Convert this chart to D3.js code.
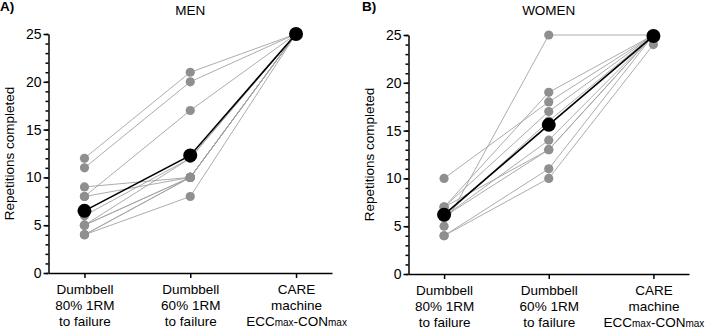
<!DOCTYPE html>
<html>
<head>
<meta charset="utf-8">
<script src="https://cdn.jsdelivr.net/npm/d3@7"></script>
<style>
  body { margin: 0; background: #fff; }
  svg text { font-family: "Liberation Sans", Arial, sans-serif; }
</style>
</head>
<body>
<div id="chart"></div>
<script>
const categories = ["cat80", "cat60", "care"];
const catLabels = [
  ["Dumbbell", "80% 1RM", "to failure"],
  ["Dumbbell", "60% 1RM", "to failure"],
  ["CARE", "machine", "ECC"]
];
const yTicks = [0, 5, 10, 15, 20, 25];

// one row per subject: [80% 1RM, 60% 1RM, CARE]
const menSubjects = [
  [12, 21, 25], [11, 20, 25], [8, 17, 25], [9, 10, 25],
  [8, 10, 25], [6, 12, 25], [5, 12, 25], [5, 10, 25],
  [5, 10, 25], [4, 10, 25], [4, 8, 25], [4, 10, 25]
];
const menMean = [6.5, 12.3, 25];

const womenSubjects = [
  [10, 18, 25], [5, 25, 25], [7, 19, 25], [7, 17, 25],
  [6, 14, 25], [6, 13, 25], [4, 11, 25], [4, 10, 24],
  [6, 16, 25], [7, 13, 25]
];
const womenMean = [6.2, 15.6, 24.9];

const W = 708, H = 329;
const svg = d3.select("#chart").append("svg")
  .attr("width", W).attr("height", H);

function drawPanel(opt) {
  const g = svg.append("g");

  const x = d3.scalePoint().domain(categories)
    .range([opt.x0, opt.x1]).padding(0.34);
  const y = d3.scaleLinear().domain([0, 25]).range([opt.y0, opt.y1]);

  const line = d3.line()
    .x((d, i) => x(categories[i]))
    .y(d => y(d));

  // individual subjects
  g.append("g").selectAll("path")
    .data(opt.subjects)
    .join("path")
    .attr("d", line)
    .attr("fill", "none")
    .attr("stroke", "#a3a3a3")
    .attr("stroke-width", 0.9);

  g.append("g").selectAll("circle")
    .data(opt.subjects.flatMap(s => s.map((v, i) => ({v, i}))))
    .join("circle")
    .attr("cx", d => x(categories[d.i]))
    .attr("cy", d => y(d.v))
    .attr("r", 4.6)
    .attr("fill", "#8f8f8f");

  // mean
  g.append("path")
    .attr("d", line(opt.mean))
    .attr("fill", "none")
    .attr("stroke", "#000")
    .attr("stroke-width", 1.6);

  g.append("g").selectAll("circle")
    .data(opt.mean)
    .join("circle")
    .attr("cx", (d, i) => x(categories[i]))
    .attr("cy", d => y(d))
    .attr("r", 7)
    .attr("fill", "#000");

  // y axis
  const yAxis = g.append("g")
    .attr("transform", "translate(" + opt.x0 + ",0)")
    .call(d3.axisLeft(y).tickValues(yTicks).tickSize(5).tickSizeOuter(0).tickPadding(2));
  g.append("g")
    .attr("transform", "translate(" + opt.x0 + ",0)")
    .call(d3.axisLeft(y).tickValues(d3.range(0, 26)).tickSize(3).tickFormat(""))
    .call(a => a.select(".domain").remove());

  // x axis
  const xAxis = g.append("g")
    .attr("transform", "translate(0," + opt.y0 + ")")
    .call(d3.axisBottom(x).tickSize(5).tickSizeOuter(0).tickFormat(""));

  g.selectAll(".domain, .tick line")
    .attr("stroke", "#000").attr("stroke-width", 1.5);
  yAxis.selectAll("text")
    .attr("font-size", 14).attr("fill", "#000");

  xAxis.selectAll(".tick").each(function(d, i) {
    const t = d3.select(this).append("text")
      .attr("fill", "#000")
      .attr("font-size", 13.5)
      .attr("text-anchor", "middle");
    catLabels[i].forEach((s, k) => {
      const ts = t.append("tspan").attr("x", 0).attr("y", 21 + k * 15.8).text(s);
      if (s === "ECC") {
        ts.append("tspan").attr("font-size", 10).text("max");
        ts.append("tspan").text("-CON");
        ts.append("tspan").attr("font-size", 10).text("max");
      }
    });
  });

  // y title
  g.append("text")
    .attr("transform", "translate(" + opt.ytx + "," + ((opt.y0 + opt.y1) / 2) + ") rotate(-90)")
    .attr("text-anchor", "middle")
    .attr("font-size", 13.5)
    .text("Repetitions completed");

  // titles
  g.append("text")
    .attr("x", x(categories[1])).attr("y", 15)
    .attr("text-anchor", "middle")
    .attr("font-size", 13.5)
    .text(opt.title);
  g.append("text")
    .attr("x", opt.lx).attr("y", 11)
    .attr("font-size", 13.5)
    .attr("font-weight", "bold")
    .text(opt.letter);
}

drawPanel({
  subjects: menSubjects, mean: menMean, title: "MEN", letter: "A)",
  x0: 48.5, x1: 332, y0: 273, y1: 34, ytx: 14, lx: 0
});
drawPanel({
  subjects: womenSubjects, mean: womenMean, title: "WOMEN", letter: "B)",
  x0: 408.5, x1: 689, y0: 274, y1: 35, ytx: 374, lx: 362
});
</script>
</body>
</html>
